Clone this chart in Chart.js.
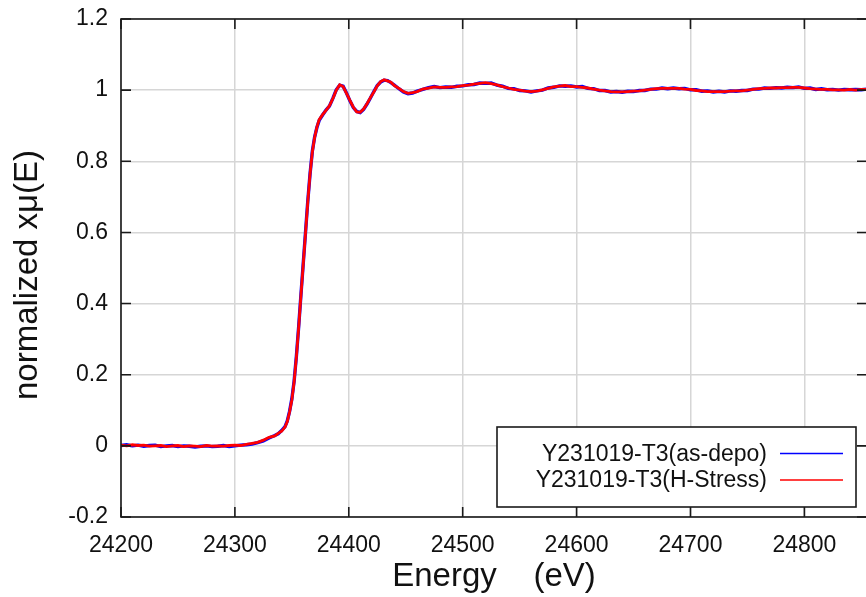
<!DOCTYPE html>
<html>
<head>
<meta charset="utf-8">
<script src="https://cdn.jsdelivr.net/npm/chart.js@4/dist/chart.umd.min.js"></script>
<style>
  html, body { margin: 0; padding: 0; background: #fff; overflow: hidden; }
  #wrap { width: 870px; height: 597px; }
</style>
</head>
<body>
<div id="wrap"><canvas id="c" width="870" height="597"></canvas></div>
<script>
// Photon energy (eV) of each sample
const energy = [
  24200,24205,24210,24215,24220,24225,24230,24235,24240,24245,
  24250,24255,24260,24265,24270,24275,24280,24285,24290,24295,
  24300,24305,24310,24315,24320,
  24325,24330,24335,24338,24341,24344,24346,24348,24350,24352,
  24354,24356,24358,24360,24362,24364,24366,24368,24370,24372,
  24374,24377,24380,24383,24386,24389,24392,24395,24398,24401,
  24404,24407,24410,24413,24416,24419,24422,24425,24428,24431,
  24434,24437,24440,24444,24448,24452,24456,24460,24465,
  24470,24475,24480,24485,24490,24495,24500,24505,24510,24515,
  24520,24525,24530,24535,24540,24545,24550,24555,24560,24565,
  24570,24575,24580,24585,24590,24595,24600,24605,24610,24615,
  24620,24625,24630,24635,24640,24645,24650,24655,24660,24665,
  24670,24675,24680,24685,24690,24695,24700,24705,24710,24715,
  24720,24725,24730,24735,24740,24745,24750,24755,24760,24765,
  24770,24775,24780,24785,24790,24795,24800,24805,24810,24815,
  24820,24825,24830,24835,24840,24845,24850,24855
];

// Normalized absorption, as-deposited sample
const asDepo = [
  0.001,0.003,0.000,0.002,-0.001,0.001,0.002,-0.002,0.000,0.001,
  -0.002,0.000,-0.001,-0.003,-0.001,0.000,-0.002,-0.001,0.001,-0.002,
  0.000,0.002,0.003,0.005,0.009,
  0.014,0.022,0.029,0.034,0.043,0.054,0.070,0.097,0.132,0.182,
  0.252,0.335,0.425,0.512,0.600,0.688,0.765,0.828,0.868,0.895,
  0.915,0.930,0.944,0.955,0.977,1.001,1.014,1.011,0.992,0.970,
  0.951,0.940,0.937,0.946,0.961,0.978,0.996,1.013,1.023,1.028,
  1.027,1.021,1.014,1.004,0.995,0.990,0.992,0.997,1.002,
  1.007,1.010,1.007,1.009,1.008,1.011,1.012,1.015,1.016,1.020,
  1.019,1.020,1.014,1.011,1.005,1.004,0.999,0.998,0.995,0.998,
  1.000,1.006,1.008,1.012,1.011,1.012,1.009,1.010,1.005,1.004,
  0.999,0.999,0.995,0.996,0.994,0.997,0.996,0.999,0.999,1.003,
  1.003,1.006,1.004,1.006,1.004,1.005,1.001,1.001,0.997,0.998,
  0.995,0.997,0.995,0.998,0.997,0.999,0.999,1.003,1.003,1.006,
  1.005,1.007,1.006,1.008,1.007,1.009,1.005,1.006,1.002,1.004,
  1.001,1.002,1.000,1.002,1.001,1.002,1.001,1.003
];

// Normalized absorption, sample after H-stress
const hStress = [
  0.002,0.000,0.003,0.001,0.002,-0.001,0.000,0.001,-0.002,0.000,
  0.001,-0.002,0.000,-0.001,-0.002,0.001,-0.001,0.000,-0.001,0.001,
  0.002,0.001,0.004,0.007,0.010,
  0.016,0.024,0.028,0.035,0.041,0.053,0.068,0.095,0.129,0.180,
  0.250,0.333,0.423,0.510,0.598,0.686,0.764,0.826,0.867,0.896,
  0.917,0.931,0.943,0.956,0.976,1.000,1.015,1.010,0.991,0.971,
  0.952,0.939,0.938,0.947,0.962,0.979,0.995,1.012,1.024,1.029,
  1.026,1.022,1.013,1.005,0.996,0.991,0.993,0.996,1.003,
  1.006,1.009,1.008,1.008,1.009,1.010,1.013,1.014,1.017,1.019,
  1.021,1.018,1.015,1.010,1.006,1.002,1.000,0.997,0.996,0.997,
  1.001,1.005,1.009,1.011,1.013,1.010,1.010,1.008,1.006,1.003,
  1.000,0.998,0.996,0.995,0.995,0.996,0.997,0.998,1.000,1.002,
  1.004,1.005,1.005,1.005,1.005,1.003,1.002,0.999,0.998,0.996,
  0.996,0.996,0.996,0.997,0.998,0.998,1.000,1.002,1.004,1.005,
  1.006,1.006,1.007,1.007,1.008,1.008,1.006,1.004,1.003,1.002,
  1.002,1.001,1.001,1.000,1.002,1.000,1.002,1.002
];

const seriesLabels = ['Y231019-T3(as-depo)', 'Y231019-T3(H-Stress)'];
const seriesColors = ['#0000ff', '#ff0000'];

const xTicks = [24200, 24300, 24400, 24500, 24600, 24700, 24800];
const xTickLabels = ['24200', '24300', '24400', '24500', '24600', '24700', '24800'];
const yTicks = [-0.2, 0, 0.2, 0.4, 0.6, 0.8, 1, 1.2];
const yTickLabels = ['-0.2', '0', '0.2', '0.4', '0.6', '0.8', '1', '1.2'];

const xTitle = 'Energy    (eV)';
const yTitle = 'normalized x\u03bc(E)';

const FONT = '"Liberation Sans", Arial, Helvetica, sans-serif';
const TEXT = '#111';

const toPoints = (ys) => energy.map((e, i) => ({ x: e, y: ys[i] }));

// Closed frame with inward tick marks on all four sides
const framePlugin = {
  id: 'frame',
  afterDatasetsDraw(chart) {
    const { ctx, chartArea: a, scales: { x, y } } = chart;
    const len = 10;
    ctx.save();
    ctx.strokeStyle = '#1a1a1a';
    ctx.lineWidth = 1.6;
    ctx.strokeRect(a.left, a.top, a.right - a.left, a.bottom - a.top);
    ctx.beginPath();
    xTicks.forEach(v => {
      const px = x.getPixelForValue(v);
      ctx.moveTo(px, a.bottom); ctx.lineTo(px, a.bottom - len);
      ctx.moveTo(px, a.top); ctx.lineTo(px, a.top + len);
    });
    yTicks.forEach(v => {
      const py = y.getPixelForValue(v);
      ctx.moveTo(a.left, py); ctx.lineTo(a.left + len, py);
      ctx.moveTo(a.right, py); ctx.lineTo(a.right - len, py);
    });
    ctx.stroke();
    ctx.restore();
  }
};

// Boxed key in the lower right corner: label text, then a line sample
const keyPlugin = {
  id: 'key',
  afterDraw(chart) {
    const { ctx, chartArea: a } = chart;
    const w = 359, h = 80;
    const left = a.right - 11 - w;
    const top = a.bottom - 10 - h;
    ctx.save();
    ctx.fillStyle = '#fff';
    ctx.fillRect(left, top, w, h);
    ctx.strokeStyle = '#1a1a1a';
    ctx.lineWidth = 1.6;
    ctx.strokeRect(left, top, w, h);
    ctx.font = '23px ' + FONT;
    ctx.textAlign = 'right';
    ctx.textBaseline = 'middle';
    chart.data.datasets.forEach((ds, i) => {
      const cy = top + 26.5 + i * 26.5;
      ctx.fillStyle = TEXT;
      ctx.fillText(ds.label, left + 270, cy + 1);
      ctx.strokeStyle = ds.borderColor;
      ctx.lineWidth = 1.6;
      ctx.beginPath();
      ctx.moveTo(left + 283, cy);
      ctx.lineTo(left + 346, cy);
      ctx.stroke();
    });
    ctx.restore();
  }
};

// Vertical title for the left axis
const yTitlePlugin = {
  id: 'yTitle',
  afterDraw(chart) {
    const { ctx } = chart;
    ctx.save();
    ctx.translate(28, 275);
    ctx.rotate(-Math.PI / 2);
    ctx.font = '33px ' + FONT;
    ctx.fillStyle = TEXT;
    ctx.textAlign = 'center';
    ctx.textBaseline = 'middle';
    ctx.fillText(yTitle, 0, 0);
    ctx.restore();
  }
};

new Chart(document.getElementById('c'), {
  type: 'line',
  data: {
    datasets: [
      {
        label: seriesLabels[0],
        data: toPoints(asDepo),
        borderColor: seriesColors[0],
        borderWidth: 3.4,
        pointRadius: 0,
        tension: 0,
        order: 2
      },
      {
        label: seriesLabels[1],
        data: toPoints(hStress),
        borderColor: seriesColors[1],
        borderWidth: 2.8,
        pointRadius: 0,
        tension: 0,
        order: 1
      }
    ]
  },
  options: {
    responsive: false,
    animation: false,
    events: [],
    layout: { padding: { top: 19, right: 3, left: 0, bottom: 0 } },
    plugins: {
      legend: { display: false },
      tooltip: { enabled: false }
    },
    scales: {
      x: {
        type: 'linear',
        min: 24200,
        max: 24855,
        afterBuildTicks: (s) => { s.ticks = xTicks.map(v => ({ value: v })); },
        afterFit: (s) => { s.height = 80; s.paddingLeft = 0; s.paddingRight = 0; },
        grid: { color: '#d6d6d6', lineWidth: 1.5, drawTicks: false },
        border: { display: false },
        ticks: {
          padding: 15,
          color: TEXT,
          font: { family: FONT, size: 23 },
          maxRotation: 0,
          autoSkip: false,
          callback: (v, i) => xTickLabels[i]
        },
        title: {
          display: true,
          text: xTitle,
          color: TEXT,
          font: { family: FONT, size: 33 },
          padding: { top: 0, bottom: 0 }
        }
      },
      y: {
        min: -0.2,
        max: 1.2,
        afterBuildTicks: (s) => { s.ticks = yTicks.map(v => ({ value: v })); },
        afterFit: (s) => { s.width = 121; s.paddingTop = 0; s.paddingBottom = 0; },
        grid: { color: '#d6d6d6', lineWidth: 1.5, drawTicks: false },
        border: { display: false },
        ticks: {
          padding: 13,
          color: TEXT,
          font: { family: FONT, size: 23 },
          autoSkip: false,
          callback: (v, i) => yTickLabels[i]
        }
      }
    }
  },
  plugins: [framePlugin, keyPlugin, yTitlePlugin]
});
</script>
</body>
</html>
